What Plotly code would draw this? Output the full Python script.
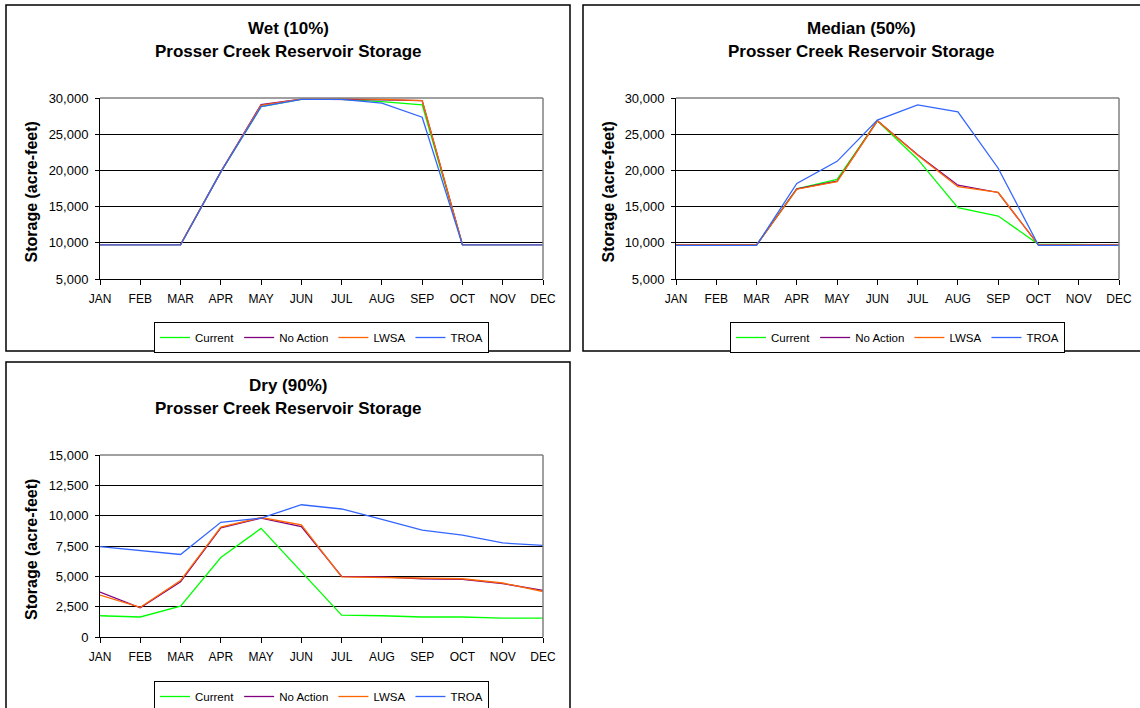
import plotly.graph_objects as go

#===========================================================================================================#

W, H = 1140, 708
FONT = "Liberation Sans, Arial, sans-serif"

months = ["JAN", "FEB", "MAR", "APR", "MAY", "JUN", "JUL", "AUG", "SEP", "OCT", "NOV", "DEC"]
seriesNames = ["Current", "No Action", "LWSA", "TROA"]
seriesColors = ["#00FF00", "#800080", "#FF6600", "#3366FF"]

wetCurrent = [9750, 9750, 9750, 19800, 28800, 29800, 29800, 29500, 29050, 9750, 9750, 9750]
wetNoAction = [9750, 9750, 9750, 19800, 29100, 29850, 29850, 29750, 29650, 9750, 9750, 9750]
wetLWSA = [9750, 9750, 9750, 19800, 29000, 29850, 29900, 29800, 29650, 9750, 9750, 9750]
wetTROA = [9700, 9700, 9700, 19800, 28800, 29800, 29800, 29300, 27350, 9700, 9700, 9700]

medCurrent = [9700, 9700, 9700, 17450, 18750, 26850, 21550, 14850, 13700, 9800, 9700, 9700]
medNoAction = [9700, 9700, 9700, 17450, 18500, 26850, 22150, 17950, 16950, 9700, 9700, 9700]
medLWSA = [9700, 9700, 9700, 17400, 18450, 26850, 22100, 17750, 16950, 9700, 9700, 9700]
medTROA = [9650, 9650, 9650, 18200, 21250, 26950, 29050, 28100, 20300, 9650, 9650, 9650]

dryCurrent = [1750, 1650, 2550, 6550, 8950, 5350, 1800, 1750, 1650, 1650, 1550, 1550]
dryNoAction = [3700, 2400, 4550, 9000, 9800, 9100, 5000, 4950, 4800, 4750, 4400, 3850]
dryLWSA = [3450, 2450, 4650, 9050, 9850, 9250, 4950, 4900, 4800, 4800, 4450, 3750]
dryTROA = [7450, 7150, 6800, 9450, 9800, 10900, 10550, 9700, 8800, 8400, 7750, 7550]

#===========================================================================================================#

def px2x(p): return p / W
def px2y(p): return 1 - p / H

panels = [
    dict(title="Wet (10%)", data=[wetCurrent, wetNoAction, wetLWSA, wetTROA], yrange=[5000, 30000], dtick=5000,
         box=(6, 5, 570, 351), plot=(100, 98, 543, 279)),
    dict(title="Median (50%)", data=[medCurrent, medNoAction, medLWSA, medTROA], yrange=[5000, 30000], dtick=5000,
         box=(583, 5, 1141, 351), plot=(676, 98, 1119, 279)),
    dict(title="Dry (90%)", data=[dryCurrent, dryNoAction, dryLWSA, dryTROA], yrange=[0, 15000], dtick=2500,
         box=(6, 362, 570, 712), plot=(100, 455, 543, 637)),
]
legendTops = [322, 322, 681]

fig = go.Figure()
shapes, annotations, layout = [], [], {}

for i, p in enumerate(panels):
    s = "" if i == 0 else str(i + 1)
    bx0, by0, bx1, by1 = p["box"]
    x0, y0, x1, y1 = p["plot"]
    boxCenter = (bx0 + bx1) / 2 if i != 1 else 861

    for name, vals, col in zip(seriesNames, p["data"], seriesColors):
        fig.add_trace(go.Scatter(x=months, y=vals, name=name, mode="lines", line=dict(color=col, width=1.3),
                                 xaxis="x" + s, yaxis="y" + s, legend="legend" + s))

    layout["xaxis" + s] = dict(domain=[px2x(x0), px2x(x1)], anchor="y" + s, type="category", range=[0, 11],
                               showgrid=False, showline=True, linecolor="black", linewidth=1, automargin=False,
                               ticks="outside", ticklen=5, tickcolor="black", ticklabelstandoff=4,
                               tickfont=dict(family=FONT, size=12, color="black"))
    layout["yaxis" + s] = dict(domain=[px2y(y1), px2y(y0)], anchor="x" + s, range=p["yrange"], dtick=p["dtick"],
                               tickformat=",", showgrid=True, gridcolor="black", gridwidth=1, zeroline=False,
                               showline=True, linecolor="black", linewidth=1, automargin=False,
                               ticks="outside", ticklen=4, tickcolor="black", ticklabelstandoff=4,
                               tickfont=dict(family=FONT, size=13, color="black"))

    # outer chart frame
    shapes.append(dict(type="rect", xref="paper", yref="paper", x0=px2x(bx0), x1=px2x(bx1), y0=px2y(by1), y1=px2y(by0),
                       line=dict(color="black", width=1.5), layer="below"))
    # grey plot area border (top + right)
    shapes.append(dict(type="line", xref="paper", yref="paper", x0=px2x(x0), x1=px2x(x1), y0=px2y(y0), y1=px2y(y0),
                       line=dict(color="#808080", width=1.5)))
    shapes.append(dict(type="line", xref="paper", yref="paper", x0=px2x(x1), x1=px2x(x1), y0=px2y(y0), y1=px2y(y1),
                       line=dict(color="#808080", width=1.5)))

    annotations.append(dict(text="<b>" + p["title"] + "</b>", x=px2x(boxCenter), y=px2y(by0 + 23.5), xref="paper", yref="paper",
                            showarrow=False, xanchor="center", yanchor="middle", font=dict(family=FONT, size=17, color="black")))
    annotations.append(dict(text="<b>Prosser Creek Reservoir Storage</b>", x=px2x(boxCenter), y=px2y(by0 + 46), xref="paper",
                            yref="paper", showarrow=False, xanchor="center", yanchor="middle",
                            font=dict(family=FONT, size=17, color="black")))
    annotations.append(dict(text="<b>Storage (acre-feet)</b>", x=px2x(bx0 + 25), y=px2y((y0 + y1) / 2 + 4), xref="paper",
                            yref="paper", showarrow=False, textangle=-90, xanchor="center", yanchor="middle",
                            font=dict(family=FONT, size=16, color="black")))

    layout["legend" + s] = dict(orientation="h", x=px2x((x0 + x1) / 2), y=px2y(legendTops[i]), xanchor="center", yanchor="top",
                                bordercolor="black", borderwidth=1, bgcolor="white",
                                font=dict(family=FONT, size=11.5, color="black"), itemwidth=30)

#===========================================================================================================#

fig.update_layout(width=W, height=H, margin=dict(l=0, r=0, t=0, b=0, autoexpand=False), paper_bgcolor="white",
                  plot_bgcolor="white", shapes=shapes, annotations=annotations, showlegend=True, **layout)

# page body has a default 8px margin; drop it so the figure sits at the window origin
fig.write_html("out.html", config={"displayModeBar": False}, post_script="document.body.style.margin='0';")
